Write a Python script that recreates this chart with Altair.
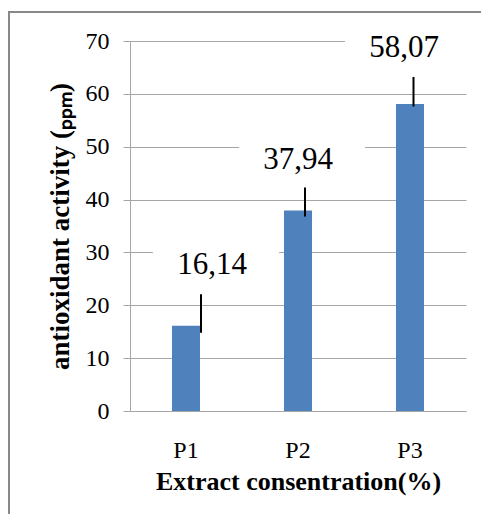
import altair as alt
import pandas as pd

# ---- data ----
categories = ["P1", "P2", "P3"]
values = [16.14, 37.94, 58.07]
value_labels = ["16,14", "37,94", "58,07"]
err_high = [22.1, 42.3, 63.2]
err_low = [14.8, 36.8, 57.6]
label_level = [27.7, 47.5, 68.7]   # vertical centre of each value label (chart units)
y_ticks = [0, 10, 20, 30, 40, 50, 60, 70]

# ---- layout (pixel offsets from bar centre, styling) ----
label_dx = [26, 0, -6]
err_dx = [15, 7, 3.5]
HALF_BAND = 56
SERIF = "Liberation Serif"
GRID = "#A6A6A6"
BAR = "#4F81BD"

df = pd.DataFrame({
    "cat": categories,
    "val": values,
    "lab": value_labels,
    "hi": err_high,
    "lo": err_low,
    "ly": label_level,
    "ldx": label_dx,
    "edx": err_dx,
})

xenc = alt.X(
    "cat:N",
    sort=categories,
    scale=alt.Scale(paddingInner=0, paddingOuter=0),
    axis=alt.Axis(
        title="Extract consentration(%)",
        labelAngle=0,
        labelFont=SERIF, labelFontSize=24, labelColor="#000",
        labelPadding=27, ticks=False,
        domainColor=GRID, grid=False,
        titleFont=SERIF, titleFontSize=26, titleFontWeight="bold", titleColor="#000",
        titleX=168, titleY=70, titleBaseline="middle", titleAlign="center",
    ),
)

yscale = alt.Scale(domain=[0, 70], nice=False, zero=True)

base = alt.Chart(df).transform_calculate(
    tx=f"datum.ldx + {HALF_BAND}",
    ex=f"datum.edx + {HALF_BAND}",
    bx=f"datum.ldx + 4 + {HALF_BAND}",
    b0="datum.ly - 4",
    b1="datum.ly + 4",
)

bars = base.mark_bar(size=28, color=BAR).encode(
    x=xenc,
    y=alt.Y(
        "val:Q",
        scale=yscale,
        axis=alt.Axis(
            values=y_ticks,
            grid=True, gridColor=GRID, gridWidth=1,
            domainColor=GRID, tickColor=GRID, tickSize=7,
            labelFont=SERIF, labelFontSize=24, labelColor="#000", labelPadding=14,
            title="antioxidant  activity (\u209a\u209a\u2098)",
            titleFont=SERIF, titleFontSize=27, titleFontWeight="bold", titleColor="#000",
            titlePadding=11,
        ),
    ),
)

boxes = base.mark_bar(size=126, color="white").encode(
    x=alt.X("cat:N", sort=categories),
    xOffset=alt.XOffset("bx:Q", scale=None),
    y=alt.Y("b0:Q", scale=yscale),
    y2="b1:Q",
)

errs = base.mark_rule(color="#000", strokeWidth=2).encode(
    x=alt.X("cat:N", sort=categories),
    xOffset=alt.XOffset("ex:Q", scale=None),
    y=alt.Y("lo:Q", scale=yscale),
    y2="hi:Q",
)

labels = base.mark_text(font=SERIF, fontSize=31, color="#000", baseline="middle").encode(
    x=alt.X("cat:N", sort=categories),
    xOffset=alt.XOffset("tx:Q", scale=None),
    y=alt.Y("ly:Q", scale=yscale),
    text="lab:N",
)

frame = alt.Chart(pd.DataFrame({"f": [0]})).mark_rect(
    fill=None, stroke="#888888", strokeWidth=2
).encode(
    x=alt.value(-121), x2=alt.value(600), y=alt.value(-29), y2=alt.value(700)
)

chart = alt.layer(frame, bars, boxes, errs, labels).properties(
    width=336,
    height=370,
    padding={"left": 122, "top": 33, "right": 15, "bottom": 103},
    autosize=alt.AutoSizeParams(type="none"),
).configure_view(stroke=None)

chart.save("out.html", embed_options={"renderer": "svg", "actions": False})
